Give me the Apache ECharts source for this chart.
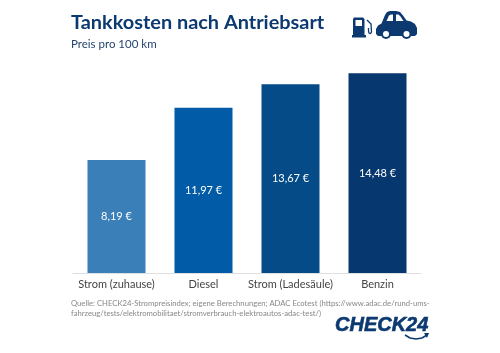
<!DOCTYPE html>
<html><head><meta charset="utf-8">
<style>html,body{margin:0;padding:0;background:#fff}#c{width:500px;height:353px}</style>
<script src="https://cdn.jsdelivr.net/npm/echarts@6/dist/echarts.min.js"></script>
</head><body><div id="c"></div>
<script>
const categories = ["Strom (zuhause)", "Diesel", "Strom (Ladesäule)", "Benzin"];
const values = [8.19, 11.97, 13.67, 14.48];
const colors = ["#3b7fb9", "#015ba7", "#044b87", "#07376f"];
const titleText = "Tankkosten nach Antriebsart";
const subtitleText = "Preis pro 100 km";
const sourceLines = ["Quelle: CHECK24-Strompreisindex; eigene Berechnungen; ADAC Ecotest (https://www.adac.de/rund-ums-", "fahrzeug/tests/elektromobilitaet/stromverbrauch-elektroautos-adac-test/)"];
const navy = "#0c3a70";
const poly = (points, fill) => ({type:'polygon',silent:true,shape:{points},style:{fill}});
const chart = echarts.init(document.getElementById('c'), null, {renderer:'canvas'});
chart.setOption({
  animation:false,
  backgroundColor:'#fff',
  textStyle:{fontFamily:'Lato'},
  grid:{left:73,width:348,top:66,height:207},
  xAxis:{type:'category',data:categories,
    axisLine:{lineStyle:{color:'#dfdfdf',width:1}},axisTick:{show:false},
    axisLabel:{color:'#444',fontSize:11,margin:6,interval:0,fontFamily:'Lato'}},
  yAxis:{type:'value',min:0,max:15,show:false,splitLine:{show:false}},
  series:[{type:'bar',barWidth:58,
    data:values.map((v,i)=>({value:v,itemStyle:{color:colors[i]}})),
    label:{show:true,position:'inside',color:'#fff',fontSize:11,offset:[0,0],fontFamily:'Lato',
      formatter:p=>p.value.toFixed(2).replace('.',',')+' €'}}],
  graphic:[
    {type:'text',x:71,y:13,style:{text:titleText,fill:navy,font:'bold 19.9px Lato'}},
    {type:'text',x:71,y:38,style:{text:subtitleText,fill:'#27456f',font:'11.5px Lato'}},
    {type:'text',x:71,y:300,style:{text:sourceLines[0],fill:'#888',font:'7.68px Lato'}},
    {type:'text',x:71,y:310,style:{text:sourceLines[1],fill:'#888',font:'7.68px Lato'}},
    {type:'text',x:335,y:315,style:{text:'CHECK24',fill:navy,font:'italic 900 20px "Liberation Sans"',stroke:navy,lineWidth:0.6}},
    // logo swoosh
    {type:'polyline',silent:true,shape:{points:[[405,335],[410,338],[416,339],[422,338],[427,335]]},style:{fill:'none',stroke:navy,lineWidth:1.6}},
    poly([[424,333],[429,333],[427,338]],navy),
    // fuel pump
    poly([[354,17.5],[363,17.5],[364.5,19],[364.5,35],[366,35],[366,37.5],[352,37.5],[352,35],[353,35],[353,19]],navy),
    poly([[355.5,20],[362,20],[362,26],[355.5,26]],'#fff'),
    {type:'polyline',silent:true,shape:{points:[[367,20],[371,24],[371.5,32],[370.5,33.5],[369,33],[368.5,31],[368.5,28]]},style:{fill:'none',stroke:navy,lineWidth:1.3}},
    // car
    poly([[376,34],[376,29],[378,25.5],[381.5,23.5],[385,15],[387,12],[390,11],[396,11],[400,12],[403,15.5],[406.5,20.5],[411,21.5],[415,24],[417,28],[417,34],[415,36],[378,36]],navy),
    poly([[386.5,21],[393,21],[393,14.5],[391,14.5],[389,15.5]],'#fff'),
    poly([[396,21],[403.5,21],[400.5,16.5],[398.5,14.5],[396,14.5]],'#fff'),
    {type:'circle',silent:true,shape:{cx:386,cy:34,r:5},style:{fill:navy}},
    {type:'circle',silent:true,shape:{cx:386,cy:34,r:3},style:{fill:'#fff'}},
    {type:'circle',silent:true,shape:{cx:406.5,cy:34,r:5},style:{fill:navy}},
    {type:'circle',silent:true,shape:{cx:406.5,cy:34,r:3},style:{fill:'#fff'}}
  ]
});
</script></body></html>
